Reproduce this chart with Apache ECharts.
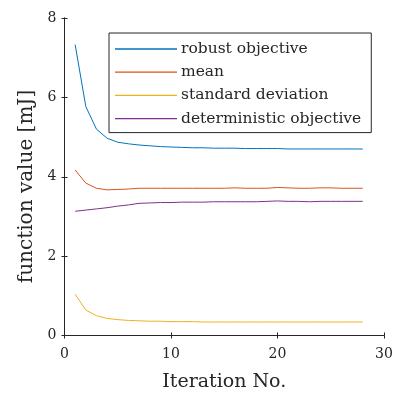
<!DOCTYPE html>
<html><head><meta charset="utf-8">
<script src="https://cdn.jsdelivr.net/npm/echarts@6/dist/echarts.min.js"></script>
<style>html,body{margin:0;padding:0;background:#fff}#c{width:395px;height:394px}</style>
</head><body><div id="c"></div>
<script>
const iterations = Array.from({length:28}, (_, i) => i + 1);
const robustObjective = [7.33,5.77,5.20,4.97,4.87,4.83,4.80,4.78,4.76,4.75,4.74,4.73,4.73,4.72,4.72,4.72,4.71,4.71,4.71,4.71,4.70,4.70,4.70,4.70,4.70,4.70,4.70,4.70];
const meanValues = [4.17,3.84,3.71,3.67,3.68,3.69,3.71,3.71,3.71,3.71,3.71,3.71,3.71,3.71,3.71,3.72,3.71,3.71,3.71,3.73,3.72,3.71,3.71,3.72,3.72,3.71,3.71,3.71];
const stdDeviation = [1.04,0.64,0.50,0.43,0.40,0.38,0.37,0.36,0.36,0.35,0.35,0.35,0.34,0.34,0.34,0.34,0.34,0.34,0.34,0.34,0.34,0.34,0.34,0.34,0.34,0.34,0.34,0.34];
const deterministicObjective = [3.13,3.16,3.19,3.22,3.26,3.29,3.33,3.34,3.35,3.35,3.36,3.36,3.36,3.37,3.37,3.37,3.37,3.37,3.38,3.39,3.38,3.38,3.37,3.38,3.38,3.38,3.38,3.38];
const seriesNames = ['robust objective','mean','standard deviation','deterministic objective'];
const colors = ['#0072BD','#D95319','#EDB120','#7E2F8E'];
const xTicks = [0,10,20,30];
const yTicks = [0,2,4,6,8];

const FONT = 'DejaVu Serif';
const chart = echarts.init(document.getElementById('c'));
const axisLine = {show:true, lineStyle:{color:'#262626', width:1}};
const tick = {show:true, inside:true, length:3, lineStyle:{color:'#262626'}};
const allData = [robustObjective, meanValues, stdDeviation, deterministicObjective];
chart.setOption({
  animation:false,
  grid:{left:64.5, top:18, right:11, bottom:58.5, containLabel:false, outerBoundsMode:'none'},
  legend:{
    orient:'vertical', left:109, top:33,
    data:seriesNames,
    icon:'rect',
    itemWidth:62, itemHeight:1.3, itemGap:7.2,
    backgroundColor:'#fff', borderColor:'#262626', borderWidth:1,
    padding:[8,10,6,6], borderRadius:0,
    textStyle:{fontFamily:FONT, fontSize:15.5, color:'#262626', padding:[0,0,0,-1], lineHeight:15}
  },
  xAxis:[{
    type:'value', min:0, max:30, interval:10,
    name:'Iteration No.', nameLocation:'middle', nameGap:37,
    nameTextStyle:{fontFamily:FONT, fontSize:19, color:'#262626'},
    axisLine, axisTick:tick, splitLine:{show:false},
    axisLabel:{fontFamily:FONT, fontSize:14, color:'#262626', margin:12}
  },{
    type:'value', min:0, max:30, interval:10, position:'top',
    axisLine, axisTick:tick, splitLine:{show:false}, axisLabel:{show:false}
  }],
  yAxis:[{
    type:'value', min:0, max:8, interval:2,
    axisLine, axisTick:tick, splitLine:{show:false},
    axisLabel:{fontFamily:FONT, fontSize:14, color:'#262626', margin:8}
  },{
    type:'value', min:0, max:8, interval:2, position:'right',
    axisLine, axisTick:tick, splitLine:{show:false}, axisLabel:{show:false}
  }],
  graphic:[{
    type:'text', x:27, y:186.5, rotation:Math.PI/2,
    style:{text:'function value [mJ]', fontFamily:FONT, fontSize:20, fill:'#262626', align:'center', verticalAlign:'middle'}
  }],
  series: seriesNames.map((n,i)=>({
    name:n, type:'line', showSymbol:false, symbol:'none',
    data: iterations.map((x,j)=>[x, allData[i][j]]),
    lineStyle:{color:colors[i], width:1}, itemStyle:{color:colors[i]}
  }))
});
</script></body></html>
